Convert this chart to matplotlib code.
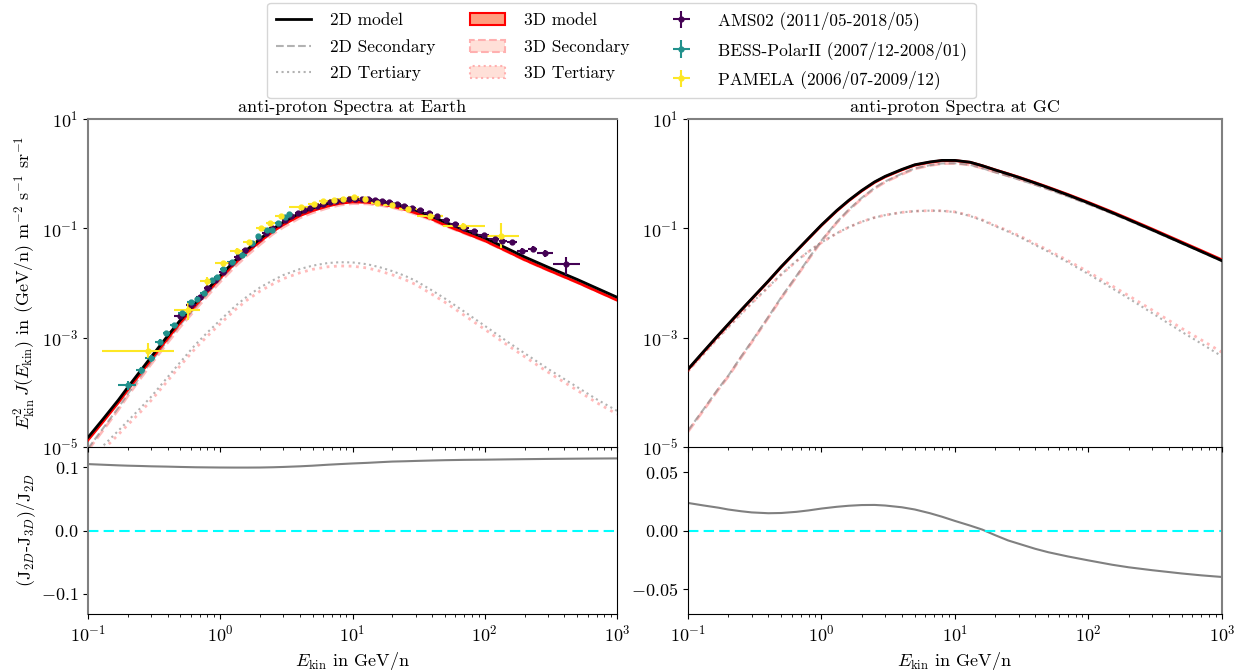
import numpy as np
import matplotlib
matplotlib.use("Agg")
import matplotlib.pyplot as plt
from matplotlib.patches import Patch
from matplotlib.lines import Line2D
from matplotlib.ticker import FixedLocator, NullLocator

plt.rcParams.update({
    "font.family": "cmr10",
    "mathtext.fontset": "cm",
    "axes.formatter.use_mathtext": True,
    "font.size": 13,
})

# kinetic energy grid of the model spectra (GeV/n)
energy = np.array([0.1, 0.13, 0.17, 0.2, 0.25, 0.3, 0.4, 0.5, 0.65, 0.8, 1.0, 1.3, 1.6, 2.0,
                   2.5, 3.0, 4.0, 5.0, 6.5, 8.0, 10, 13, 16, 20, 25, 30, 40, 50, 70, 100,
                   150, 200, 300, 500, 700, 1000])

# ---- spectra at Earth ----
earth_sec_2d = np.array([9.4e-6, 2.2e-5, 5.3e-5, 9.4e-5, 1.98e-4, 3.6e-4, 8.9e-4, 1.75e-3, 3.6e-3,
                         6.4e-3, 0.0116, 0.0222, 0.0353, 0.0557, 0.0868, 0.116, 0.172, 0.214, 0.262,
                         0.296, 0.316, 0.313, 0.296, 0.2685, 0.2345, 0.204, 0.1577, 0.1248, 0.091,
                         0.0653, 0.0412, 0.0295, 0.0193, 0.0115, 0.0080, 0.00545])
earth_ter_2d = np.array([5.6e-6, 1.05e-5, 2.0e-5, 3.0e-5, 5.2e-5, 8.3e-5, 1.9e-4, 3.6e-4, 7.5e-4,
                         1.25e-3, 2.1e-3, 3.8e-3, 5.7e-3, 8.3e-3, 1.12e-2, 1.4e-2, 1.8e-2, 2.08e-2,
                         2.32e-2, 2.4e-2, 2.38e-2, 2.2e-2, 1.95e-2, 1.65e-2, 1.35e-2, 1.1e-2, 7.3e-3,
                         5.2e-3, 3.0e-3, 1.65e-3, 8.3e-4, 5.2e-4, 2.7e-4, 1.25e-4, 7.5e-5, 4.6e-5])
earth_ter_3d = np.array([4.7e-6, 8.9e-6, 1.7e-5, 2.55e-5, 4.4e-5, 7.1e-5, 1.62e-4, 3.1e-4, 6.4e-4,
                         1.07e-3, 1.8e-3, 3.25e-3, 4.9e-3, 7.1e-3, 9.6e-3, 1.2e-2, 1.54e-2, 1.78e-2,
                         1.98e-2, 2.05e-2, 2.03e-2, 1.88e-2, 1.66e-2, 1.41e-2, 1.15e-2, 9.4e-3, 6.2e-3,
                         4.45e-3, 2.57e-3, 1.42e-3, 7.2e-4, 4.5e-4, 2.35e-4, 1.09e-4, 6.5e-5, 4.0e-5])
earth_rel_diff = np.array([0.105, 0.104, 0.103, 0.1025, 0.102, 0.1015, 0.101, 0.1005, 0.100, 0.0998,
                           0.0996, 0.0995, 0.0995, 0.0996, 0.100, 0.1005, 0.1015, 0.1025, 0.104,
                           0.105, 0.106, 0.107, 0.108, 0.109, 0.1095, 0.110, 0.1107, 0.1112, 0.1117,
                           0.112, 0.1125, 0.1128, 0.1132, 0.1136, 0.1138, 0.114])

# ---- spectra at the Galactic centre ----
gc_sec_2d = np.array([2.0e-5, 4.8e-5, 1.2e-4, 2.0e-4, 4.5e-4, 8.5e-4, 2.4e-3, 5.5e-3, 0.0135, 0.028,
                      0.06, 0.13, 0.22, 0.36, 0.55, 0.72, 1.0, 1.25, 1.43, 1.54, 1.55, 1.45, 1.26,
                      1.06, 0.9, 0.784, 0.623, 0.516, 0.3845, 0.2762, 0.1861, 0.139, 0.0911, 0.0529,
                      0.0369, 0.0251])
gc_ter_2d = np.array([2.45e-4, 5.0e-4, 1.02e-3, 1.56e-3, 2.75e-3, 4.3e-3, 8.5e-3, 0.01444, 0.0254,
                      0.0378, 0.0553, 0.0813, 0.1051, 0.132, 0.1575, 0.1746, 0.196, 0.2063, 0.2106,
                      0.209, 0.198, 0.168, 0.14, 0.11, 0.087, 0.071, 0.0494, 0.0375, 0.024, 0.01456,
                      8.05e-3, 5.24e-3, 2.82e-3, 1.28e-3, 7.8e-4, 4.55e-4])
gc_sec_3d = np.array([1.9e-5, 4.6e-5, 1.15e-4, 1.93e-4, 4.35e-4, 8.2e-4, 2.32e-3, 5.3e-3, 0.013, 0.027,
                      0.058, 0.126, 0.213, 0.349, 0.534, 0.70, 0.975, 1.225, 1.41, 1.525, 1.54, 1.445,
                      1.265, 1.07, 0.913, 0.797, 0.636, 0.529, 0.396, 0.285, 0.193, 0.144, 0.0945,
                      0.0549, 0.0383, 0.0261])
gc_ter_3d = np.array([2.43e-4, 4.95e-4, 1.01e-3, 1.54e-3, 2.72e-3, 4.26e-3, 8.4e-3, 0.0143, 0.0251,
                      0.0374, 0.0548, 0.0808, 0.1047, 0.132, 0.1575, 0.1746, 0.196, 0.2063, 0.2106,
                      0.209, 0.2, 0.171, 0.143, 0.113, 0.0903, 0.0743, 0.0521, 0.0399, 0.0258, 0.0159,
                      8.9e-3, 5.87e-3, 3.2e-3, 1.48e-3, 9.1e-4, 5.4e-4])
gc_rel_diff = np.array([0.0236, 0.0215, 0.0195, 0.0180, 0.0165, 0.0155, 0.0148, 0.0150, 0.0160, 0.0172,
                        0.0188, 0.0203, 0.0212, 0.0218, 0.0219, 0.0214, 0.0199, 0.0180, 0.0148, 0.0118,
                        0.0082, 0.0042, 0.0008, -0.0040, -0.0085, -0.0113, -0.0157, -0.0186, -0.0222,
                        -0.0256, -0.0293, -0.0315, -0.0340, -0.0368, -0.0384, -0.0398])

# ---- measurements at Earth: E^2 J with bin edges ----
ams_e = np.array([0.5, 0.6, 0.7, 0.8, 0.92, 1.05, 1.2, 1.36, 1.55, 1.75, 1.97, 2.2, 2.47, 2.77, 3.1,
                  3.45, 3.85, 4.3, 4.8, 5.35, 6.0, 6.7, 7.5, 8.4, 9.4, 10.5, 11.8, 13.2, 14.9, 16.8,
                  19.0, 21.6, 24.6, 28.2, 32.5, 37.6, 43.6, 50.8, 59.4, 69.8, 82.5, 98.5, 119, 136,
                  160, 192, 230, 287, 415])
ams_flux = np.array([2.5e-3, 4.0e-3, 5.6e-3, 8.2e-3, 0.0114, 0.016, 0.0228, 0.030, 0.041, 0.052, 0.067,
                     0.083, 0.102, 0.122, 0.144, 0.166, 0.19, 0.213, 0.234, 0.256, 0.278, 0.297, 0.315,
                     0.33, 0.34, 0.345, 0.343, 0.34, 0.328, 0.315, 0.298, 0.278, 0.258, 0.236, 0.212,
                     0.188, 0.165, 0.142, 0.122, 0.103, 0.089, 0.075, 0.064, 0.059, 0.056, 0.039,
                     0.042, 0.035, 0.022])
ams_err = np.array([2e-4, 2.8e-4, 3.6e-4, 4.8e-4, 6e-4, 8e-4, 1.0e-3, 1.3e-3, 1.7e-3, 2.1e-3, 2.6e-3,
                    3.2e-3, 3.8e-3, 4.5e-3, 5.2e-3, 6e-3, 6.8e-3, 7.5e-3, 8.2e-3, 9e-3, 9.7e-3, 0.0104,
                    0.011, 0.0115, 0.012, 0.012, 0.012, 0.012, 0.0115, 0.011, 0.0105, 0.01, 0.0095,
                    0.009, 0.0085, 0.008, 0.0075, 0.007, 0.0065, 0.006, 0.0055, 0.005, 0.0047, 0.0045,
                    0.0055, 0.0045, 0.0055, 0.0055, 0.008])
ams_edges = np.array([0.45, 0.55, 0.65, 0.75, 0.86, 0.98, 1.12, 1.28, 1.45, 1.65, 1.86, 2.08, 2.33,
                      2.62, 2.93, 3.27, 3.65, 4.07, 4.55, 5.07, 5.67, 6.35, 7.1, 7.95, 8.9, 9.95,
                      11.15, 12.5, 14.05, 15.85, 17.9, 20.3, 23.1, 26.4, 30.3, 34.9, 40.5, 47.1, 55,
                      64.4, 75.7, 89.5, 107, 128, 147, 175, 211, 250, 330, 525])

bess_e = np.array([0.20, 0.25, 0.30, 0.35, 0.39, 0.45, 0.51, 0.60, 0.67, 0.75, 0.86, 0.95, 1.05,
                   1.22, 1.45, 1.73, 1.94, 2.24, 2.45, 2.75, 3.09, 3.3])
bess_flux = np.array([1.36e-4, 2.56e-4, 4.2e-4, 8.4e-4, 1.2e-3, 1.7e-3, 2.78e-3, 4.5e-3, 5.2e-3,
                      6.5e-3, 0.0115, 0.013, 0.0177, 0.0244, 0.0324, 0.053, 0.072, 0.093, 0.095,
                      0.124, 0.163, 0.18])
bess_err = np.array([2.5e-5, 4e-5, 6e-5, 1.0e-4, 1.4e-4, 1.9e-4, 2.8e-4, 4e-4, 4.5e-4, 5.5e-4, 9e-4,
                     1.0e-3, 1.4e-3, 1.9e-3, 2.6e-3, 4.2e-3, 5.8e-3, 7.5e-3, 8e-3, 0.011, 0.015, 0.018])
bess_edges = np.array([0.17, 0.23, 0.27, 0.32, 0.37, 0.42, 0.48, 0.56, 0.64, 0.70, 0.80, 0.90, 1.0,
                       1.12, 1.32, 1.58, 1.85, 2.05, 2.35, 2.6, 2.95, 3.2, 3.5])

pamela_e = np.array([0.286, 0.573, 0.80, 1.05, 1.33, 1.66, 2.05, 2.37, 2.9, 4.1, 5.1, 6.0, 7.2, 8.5,
                     10.2, 12.4, 15.2, 19.8, 26.4, 38.5, 69, 132])
pamela_flux = np.array([5.7e-4, 3.2e-3, 1.1e-2, 2.28e-2, 3.9e-2, 5.7e-2, 0.1, 0.123, 0.167, 0.248,
                        0.277, 0.318, 0.327, 0.35, 0.376, 0.34, 0.295, 0.265, 0.222, 0.17, 0.111, 0.072])
pamela_err_lo = np.array([1.5e-4, 1.1e-3, 2e-3, 3e-3, 4e-3, 5e-3, 8e-3, 9e-3, 0.011, 0.014, 0.016,
                          0.018, 0.019, 0.02, 0.022, 0.021, 0.019, 0.018, 0.017, 0.015, 0.014, 0.029])
pamela_err_hi = np.array([2.2e-4, 1.1e-3, 2e-3, 3e-3, 4e-3, 5e-3, 8e-3, 9e-3, 0.011, 0.014, 0.016,
                          0.018, 0.019, 0.02, 0.022, 0.021, 0.019, 0.018, 0.017, 0.015, 0.016, 0.054])
pamela_edges = np.array([0.127, 0.447, 0.70, 0.92, 1.18, 1.48, 1.85, 2.2, 2.6, 3.3, 4.6, 5.6, 6.6,
                         7.8, 9.3, 11.2, 13.7, 17.0, 22.5, 31.0, 48.0, 100, 180])

PINK = "#ff8c8c"
GREY = "#808080"


def model_curves(sec2d, ter2d, rel_diff):
    tot2d = sec2d + ter2d
    tot3d = tot2d * (1.0 - rel_diff)
    return tot2d, tot3d


def draw_spectra(ax, tot2d, sec2d, ter2d, tot3d, sec3d, ter3d):
    ax.plot(energy, sec3d, color=PINK, ls="--", lw=2.0, alpha=0.6, zorder=2)
    ax.plot(energy, ter3d, color=PINK, ls=":", lw=2.0, alpha=0.6, zorder=2)
    ax.plot(energy, sec2d, color=GREY, ls="--", lw=1.5, alpha=0.6, zorder=2)
    ax.plot(energy, ter2d, color=GREY, ls=":", lw=1.5, alpha=0.6, zorder=2)
    ax.plot(energy, tot3d, color="red", lw=2.0, zorder=3)
    ax.plot(energy, tot2d, color="black", lw=2.0, zorder=4)


def style_spines(ax, outer):
    ax.spines["top"].set_color(GREY)
    ax.spines[outer].set_color(GREY)
    ax.spines["top"].set_linewidth(1.5)
    ax.spines[outer].set_linewidth(1.5)


def bin_xerr(e, edges):
    return np.vstack([e - edges[:-1], edges[1:] - e])


fig = plt.figure(figsize=(12.52, 6.70), dpi=100)
# ratio panels first so the spectrum panels (and their x ticks) sit on top
ax_lr = fig.add_axes([0.0703, 0.0836, 0.4225, 0.2492])
ax_rr = fig.add_axes([0.5495, 0.0836, 0.4265, 0.2492])
ax_l = fig.add_axes([0.0703, 0.3328, 0.4225, 0.4896], sharex=ax_lr)
ax_r = fig.add_axes([0.5495, 0.3328, 0.4265, 0.4896], sharex=ax_rr)

# Earth
e_tot2d, e_tot3d = model_curves(earth_sec_2d, earth_ter_2d, earth_rel_diff)
e_sec3d = e_tot3d - earth_ter_3d
draw_spectra(ax_l, e_tot2d, earth_sec_2d, earth_ter_2d, e_tot3d, e_sec3d, earth_ter_3d)

eb_ams = ax_l.errorbar(ams_e, ams_flux, yerr=ams_err, xerr=bin_xerr(ams_e, ams_edges), fmt="o",
                       ms=3.5, color="#440154", elinewidth=1.5, zorder=5,
                       label="AMS02 (2011/05-2018/05)")
eb_bess = ax_l.errorbar(bess_e, bess_flux, yerr=bess_err, xerr=bin_xerr(bess_e, bess_edges), fmt="o",
                        ms=3.5, color="#21918c", elinewidth=1.5, zorder=5,
                        label="BESS-PolarII (2007/12-2008/01)")
eb_pam = ax_l.errorbar(pamela_e, pamela_flux, yerr=[pamela_err_lo, pamela_err_hi],
                       xerr=bin_xerr(pamela_e, pamela_edges), fmt="o", ms=3.5, color="#fde725",
                       elinewidth=1.5, zorder=5, label="PAMELA (2006/07-2009/12)")

# Galactic centre
g_tot2d, g_tot3d = model_curves(gc_sec_2d, gc_ter_2d, gc_rel_diff)
draw_spectra(ax_r, g_tot2d, gc_sec_2d, gc_ter_2d, g_tot3d, gc_sec_3d, gc_ter_3d)

# relative difference panels
for ax, tot2d, tot3d in [(ax_lr, e_tot2d, e_tot3d), (ax_rr, g_tot2d, g_tot3d)]:
    ax.plot(energy, (tot2d - tot3d) / tot2d, color=GREY, lw=1.5)
    ax.axhline(0.0, color="cyan", ls="--", lw=1.5, dashes=(5, 2.5))

for ax in (ax_l, ax_r):
    ax.set_xscale("log")
    ax.set_yscale("log")
    ax.set_xlim(0.1, 1000)
    ax.set_ylim(1e-5, 10)
    ax.yaxis.set_major_locator(FixedLocator([1e-5, 1e-3, 1e-1, 1e1]))
    ax.yaxis.set_minor_locator(NullLocator())
    ax.tick_params(axis="x", which="both", labelbottom=False)

ax_lr.set_ylim(-0.132, 0.132)
ax_lr.set_yticks([-0.1, 0.0, 0.1])
ax_rr.set_ylim(-0.0715, 0.0715)
ax_rr.set_yticks([-0.05, 0.0, 0.05])
ax_rr.yaxis.set_major_formatter(plt.FormatStrFormatter(r"$%.2f$"))
ax_lr.yaxis.set_major_formatter(plt.FormatStrFormatter(r"$%.1f$"))

for ax in (ax_lr, ax_rr):
    ax.set_xlabel(r"$E_{\rm kin}$ in GeV/n", fontsize=13)

ax_l.set_title("anti-proton Spectra at Earth", fontsize=13, pad=5)
ax_r.set_title("anti-proton Spectra at GC", fontsize=13, pad=5)
ax_l.set_ylabel(r"$E_{\rm kin}^2\,J(E_{\rm kin})$ in (GeV/n) m$^{-2}$ s$^{-1}$ sr$^{-1}$", fontsize=13)
ax_lr.set_ylabel(r"(J$_{2D}$-J$_{3D}$)/J$_{2D}$", fontsize=13)
ax_l.yaxis.set_label_coords(-0.095, 0.5)
ax_lr.yaxis.set_label_coords(-0.095, 0.5)

for ax in (ax_l, ax_lr):
    style_spines(ax, "left")
for ax in (ax_r, ax_rr):
    style_spines(ax, "right")
for ax in (ax_lr, ax_rr):
    ax.spines["top"].set_visible(False)

legend_handles = [
    Line2D([], [], color="black", lw=2.0),
    Line2D([], [], color=GREY, ls="--", lw=1.5, alpha=0.6),
    Line2D([], [], color=GREY, ls=":", lw=1.5, alpha=0.6),
    Patch(facecolor="#ff9f80", edgecolor="red", lw=1.5),
    Patch(facecolor="#ffe0d8", edgecolor="#ffb0b0", ls="--", lw=1.5),
    Patch(facecolor="#ffe0d8", edgecolor="#ffb0b0", ls=":", lw=1.5),
    eb_ams, eb_bess, eb_pam,
]
legend_labels = ["2D model", "2D Secondary", "2D Tertiary",
                 "3D model", "3D Secondary", "3D Tertiary",
                 "AMS02 (2011/05-2018/05)", "BESS-PolarII (2007/12-2008/01)",
                 "PAMELA (2006/07-2009/12)"]
fig.legend(legend_handles, legend_labels, loc="upper center", bbox_to_anchor=(0.4965, 1.0),
           borderaxespad=0.15, ncol=3, fontsize=12.5, columnspacing=2.0,
           handletextpad=1.1, labelspacing=0.62, borderpad=0.5)

fig.savefig("out.png", dpi=100)
